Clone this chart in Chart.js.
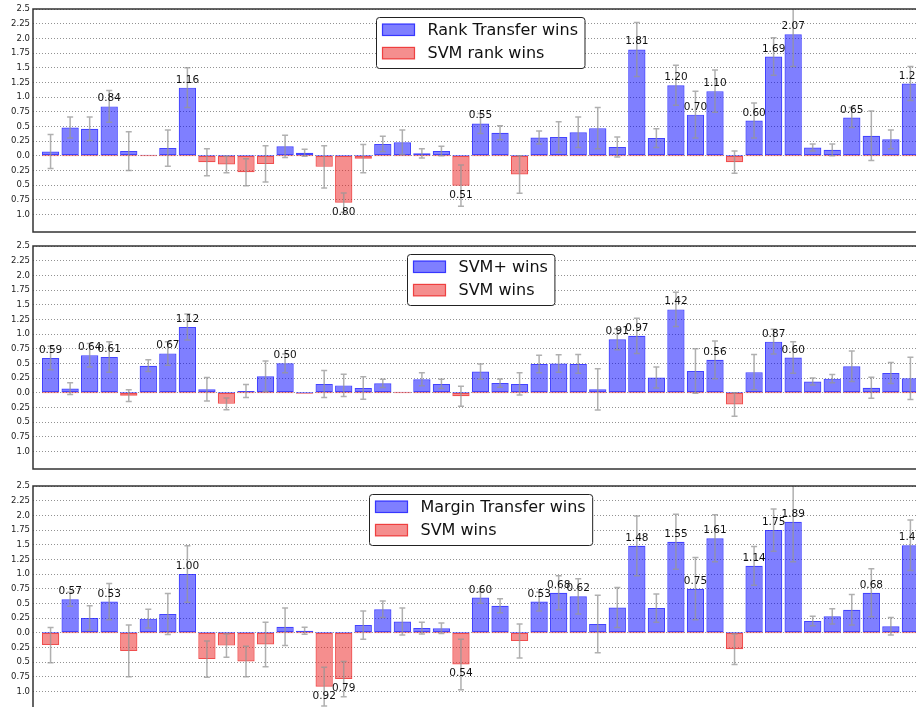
<!DOCTYPE html>
<html>
<head>
<meta charset="utf-8">
<title>Wins per dataset</title>
<script src="https://cdn.jsdelivr.net/npm/chart.js@4.4.1/dist/chart.umd.min.js"></script>
<style>
  html, body { margin: 0; padding: 0; background: #fff; width: 916px; height: 707px; overflow: hidden; position: relative; }
  canvas { position: absolute; left: 0; }
</style>
</head>
<body>
<canvas id="rankChart" width="940" height="243" style="top:-1px"></canvas>
<canvas id="svmPlusChart" width="940" height="243" style="top:236px"></canvas>
<canvas id="marginChart" width="940" height="243" style="top:476px"></canvas>
<script>
// values (positive = transfer method wins, negative = SVM wins)
const rankTransfer = [0.07, 0.48, 0.46, 0.84, 0.08, 0.005, 0.13, 1.16, -0.11, -0.15, -0.28, -0.14, 0.16, 0.05, -0.19,
    -0.80, -0.05, 0.20, 0.23, 0.04, 0.08, -0.51, 0.55, 0.39, -0.32, 0.31, 0.32, 0.40, 0.47, 0.15,
    1.81, 0.30, 1.20, 0.70, 1.10, -0.11, 0.60, 1.69, 2.07, 0.14, 0.10, 0.65, 0.34, 0.28, 1.23];
const rankTransferErr = [0.29, 0.18, 0.2, 0.27, 0.33, 0, 0.31, 0.34, 0.23, 0.14, 0.23, 0.31, 0.19, 0.06, 0.36,
    0.165, 0.24, 0.13, 0.21, 0.08, 0.08, 0.35, 0.17, 0.12, 0.32, 0.11, 0.26, 0.26, 0.35, 0.17,
    0.46, 0.16, 0.34, 0.4, 0.36, 0.19, 0.3, 0.32, 0.55, 0.06, 0.1, 0.17, 0.42, 0.16, 0.29];

const svmPlus = [0.59, 0.07, 0.64, 0.61, -0.05, 0.46, 0.67, 1.12, 0.06, -0.19, 0.03, 0.28, 0.50, -0.015, 0.15,
    0.125, 0.08, 0.16, 0.005, 0.23, 0.15, -0.06, 0.36, 0.165, 0.15, 0.49, 0.497, 0.49, 0.057, 0.91,
    0.97, 0.26, 1.42, 0.37, 0.56, -0.20, 0.35, 0.87, 0.60, 0.19, 0.24, 0.45, 0.085, 0.335, 0.245];
const svmPlusErr = [0.2, 0.1, 0.2, 0.26, 0.1, 0.1, 0.2, 0.22, 0.2, 0.1, 0.11, 0.26, 0.16, 0, 0.23,
    0.19, 0.19, 0.07, 0, 0.11, 0.08, 0.17, 0.13, 0.07, 0.19, 0.15, 0.15, 0.16, 0.35, 0.18,
    0.3, 0.18, 0.29, 0.38, 0.32, 0.2, 0.3, 0.21, 0.27, 0.06, 0.07, 0.26, 0.18, 0.18, 0.36];

const marginTransfer = [-0.21, 0.57, 0.25, 0.53, -0.31, 0.24, 0.32, 1.00, -0.45, -0.22, -0.49, -0.20, 0.10, 0.034, -0.92,
    -0.79, 0.13, 0.40, 0.19, 0.08, 0.075, -0.54, 0.60, 0.46, -0.14, 0.53, 0.68, 0.62, 0.15, 0.43,
    1.48, 0.42, 1.55, 0.75, 1.61, -0.28, 1.14, 1.75, 1.89, 0.20, 0.28, 0.39, 0.68, 0.11, 1.49];
const marginTransferErr = [0.3, 0.12, 0.21, 0.31, 0.44, 0.16, 0.35, 0.48, 0.31, 0.2, 0.26, 0.38, 0.32, 0.06, 0.33,
    0.3, 0.24, 0.14, 0.23, 0.1, 0.09, 0.43, 0.1, 0.12, 0.29, 0.16, 0.29, 0.3, 0.49, 0.34,
    0.51, 0.24, 0.47, 0.53, 0.4, 0.26, 0.33, 0.36, 0.68, 0.08, 0.13, 0.26, 0.41, 0.15, 0.43];

const yTickValues = [-1, -0.75, -0.5, -0.25, 0, 0.25, 0.5, 0.75, 1, 1.25, 1.5, 1.75, 2, 2.25, 2.5];
const yTickLabels = ['1.0', '0.75', '0.5', '0.25', '0.0', '0.25', '0.5', '0.75', '1.0', '1.25', '1.5', '1.75', '2.0', '2.25', '2.5'];

const BLUE_FILL = 'rgba(0, 0, 255, 0.5)';
const BLUE_EDGE = 'rgba(20, 20, 255, 0.8)';
const RED_FILL = 'rgba(235, 30, 30, 0.5)';
const RED_EDGE = 'rgba(235, 20, 20, 0.75)';
const FONT = '"DejaVu Sans", sans-serif';

// error bars drawn through the chart scales
const errorBarPlugin = {
    id: 'errorBars',
    afterDatasetsDraw(chart, args, opts) {
        const { ctx, chartArea, scales: { x, y } } = chart;
        ctx.save();
        ctx.beginPath();
        ctx.rect(chartArea.left, chartArea.top, chartArea.width, chartArea.height);
        ctx.clip();
        ctx.strokeStyle = 'rgba(150, 150, 150, 0.75)';
        ctx.lineWidth = 1.5;
        opts.values.forEach((v, i) => {
            const err = opts.errors[i];
            if (!err) return;
            const px = x.getPixelForValue(i);
            const top = y.getPixelForValue(v + err);
            const bottom = y.getPixelForValue(v - err);
            ctx.beginPath();
            ctx.moveTo(px, top); ctx.lineTo(px, bottom);
            ctx.moveTo(px - 3, top); ctx.lineTo(px + 3, top);
            ctx.moveTo(px - 3, bottom); ctx.lineTo(px + 3, bottom);
            ctx.stroke();
        });
        ctx.restore();
    }
};

// numbers above/below the larger bars
const valueLabelPlugin = {
    id: 'valueLabels',
    afterDatasetsDraw(chart, args, opts) {
        const { ctx, scales: { x, y } } = chart;
        ctx.save();
        ctx.font = '10.5px ' + FONT;
        ctx.fillStyle = '#111';
        ctx.textAlign = 'center';
        ctx.textBaseline = 'alphabetic';
        opts.values.forEach((v, i) => {
            if (Math.abs(v) < 0.5) return;
            const px = x.getPixelForValue(i);
            const py = y.getPixelForValue(v);
            const text = Math.abs(v).toFixed(2);
            if (v > 0) ctx.fillText(text, px, py - 5);
            else ctx.fillText(text, px, py + 12);
        });
        ctx.restore();
    }
};

// axes frame and boxed legend inside the plot
const frameLegendPlugin = {
    id: 'frameLegend',
    afterDraw(chart, args, opts) {
        const { ctx, chartArea } = chart;
        ctx.save();
        ctx.strokeStyle = '#333';
        ctx.lineWidth = 1.5;
        ctx.strokeRect(chartArea.left, chartArea.top, chartArea.width, chartArea.height);

        ctx.font = '16px ' + FONT;
        const labels = chart.data.datasets.map(d => d.label);
        const textW = Math.max(...labels.map(l => ctx.measureText(l).width));
        const boxW = 6 + 32 + 13 + textW + 7;
        const boxH = 51;
        const cx = (chartArea.left + chartArea.right) / 2;
        const bx = Math.round(cx - boxW / 2) + 0.5;
        const by = Math.round(chartArea.top + 8) + 0.5;
        ctx.beginPath();
        ctx.roundRect(bx, by, boxW, boxH, 3);
        ctx.fillStyle = '#fff';
        ctx.fill();
        ctx.lineWidth = 1;
        ctx.strokeStyle = '#222';
        ctx.stroke();

        chart.data.datasets.forEach((d, i) => {
            const sy = by + 6.5 + i * 23.4;
            ctx.fillStyle = d.backgroundColor;
            ctx.fillRect(bx + 6, sy, 32, 11.5);
            ctx.strokeStyle = d.borderColor;
            ctx.lineWidth = 1.2;
            ctx.strokeRect(bx + 6, sy, 32, 11.5);
            ctx.fillStyle = '#111';
            ctx.textBaseline = 'middle';
            ctx.fillText(d.label, bx + 6 + 32 + 13, sy + 6.5);
        });
        ctx.restore();
    }
};

function makePanel(canvasId, values, errors, legendLabels) {
    const ctx = document.getElementById(canvasId).getContext('2d');
    const pos = values.map((v, i) => ({ x: i, y: v > 0 ? v : 0 }));
    const neg = values.map((v, i) => ({ x: i, y: v < 0 ? v : 0 }));
    return new Chart(ctx, {
        type: 'bar',
        data: {
            datasets: [{
                label: legendLabels[0],
                data: pos,
                backgroundColor: BLUE_FILL,
                borderColor: BLUE_EDGE,
                borderWidth: 1.2,
                borderSkipped: false,
                minBarLength: 1,
                grouped: false,
                order: 1
            }, {
                label: legendLabels[1],
                data: neg,
                backgroundColor: RED_FILL,
                borderColor: RED_EDGE,
                borderWidth: 1.2,
                borderSkipped: false,
                minBarLength: 1,
                grouped: false,
                order: 0
            }]
        },
        options: {
            responsive: false,
            animation: false,
            devicePixelRatio: 1,
            layout: { padding: { top: 10, bottom: 10, left: 0, right: 12 } },
            datasets: { bar: { barPercentage: 0.885, categoryPercentage: 1 } },
            scales: {
                x: { type: 'linear', min: -0.9, max: 44.9, offset: false, display: false },
                y: {
                    min: -1.3,
                    max: 2.5,
                    afterBuildTicks: scale => { scale.ticks = yTickValues.map(v => ({ value: v })); },
                    afterFit: scale => { scale.width = 33; },
                    ticks: {
                        padding: 3,
                        color: '#222',
                        font: { family: FONT, size: 8.5 },
                        callback: (value, index) => yTickLabels[index]
                    },
                    grid: { color: 'rgba(60, 60, 60, 0.7)', lineWidth: 0.8, drawTicks: false },
                    border: { display: false, dash: [1, 2] }
                }
            },
            plugins: {
                legend: { display: false },
                tooltip: { enabled: false },
                errorBars: { values, errors },
                valueLabels: { values }
            }
        },
        plugins: [errorBarPlugin, valueLabelPlugin, frameLegendPlugin]
    });
}

makePanel('rankChart', rankTransfer, rankTransferErr, ['Rank Transfer wins', 'SVM rank wins']);
makePanel('svmPlusChart', svmPlus, svmPlusErr, ['SVM+ wins', 'SVM wins']);
makePanel('marginChart', marginTransfer, marginTransferErr, ['Margin Transfer wins', 'SVM wins']);
</script>
</body>
</html>
